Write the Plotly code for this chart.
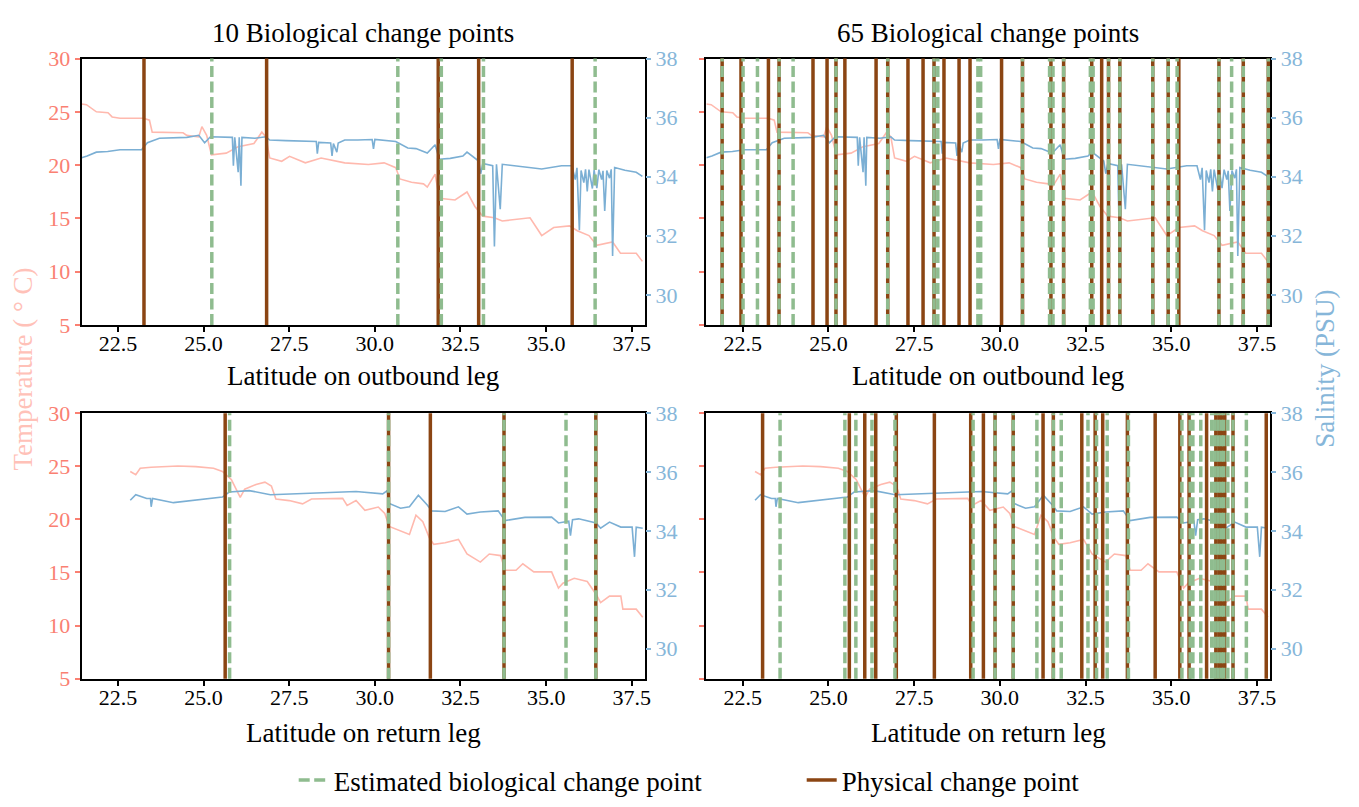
import plotly.graph_objects as go

FONT = "Liberation Serif"

# ---------------- data ----------------
# Outbound leg: temperature (deg C) vs latitude
out_lat_T = [21.44, 21.58, 21.87, 22.21, 22.33, 22.56, 23.25, 23.42, 23.50, 24.40, 24.51, 24.86, 24.95,
             25.09, 25.23, 25.66, 26.01, 26.47, 26.70, 26.82, 26.93, 27.28, 27.51, 27.97, 28.43, 29.12,
             29.81, 30.27, 30.61, 30.73, 31.07, 31.42, 31.53, 31.76, 31.88, 32.34, 32.69, 32.92, 33.15,
             33.49, 33.72, 34.18, 34.53, 34.87, 35.22, 35.68, 35.91, 36.25, 36.48, 36.94, 37.17, 37.63, 37.81]
out_T = [25.73, 25.67, 25.00, 24.91, 24.52, 24.39, 24.39, 24.21, 23.09, 23.03, 22.79, 22.64, 23.61,
         22.79, 20.97, 21.12, 21.73, 22.03, 23.09, 22.64, 20.67, 20.36, 20.82, 20.21, 20.67, 20.21,
         20.06, 20.21, 19.76, 18.70, 18.39, 18.24, 17.94, 19.15, 16.88, 16.73, 17.48, 16.12, 15.21,
         15.06, 14.76, 14.91, 15.06, 13.39, 14.15, 14.30, 13.85, 13.39, 12.48, 12.79, 11.73, 11.73, 10.97]

# Outbound leg: salinity (PSU) vs latitude
out_lat_S = [21.44, 21.60, 21.87, 22.20, 22.56, 23.19, 23.36, 23.71, 24.51, 24.86, 25.03, 25.20, 25.84,
             25.87, 25.91, 26.01, 26.04, 26.09, 26.12, 26.50, 26.82, 26.93, 27.40, 27.97, 28.29, 28.32,
             28.36, 28.71, 28.75, 28.79, 28.89, 28.93, 29.12, 29.50, 29.92, 29.96, 30.00, 30.61, 30.96,
             31.20, 31.53, 31.76, 31.88, 32.20, 32.57, 32.69, 33.03, 33.09, 33.15, 33.44, 33.49, 33.55,
             33.66, 33.72, 34.20, 34.87, 35.45, 35.75, 35.85, 35.90, 35.97, 36.02, 36.10, 36.15, 36.20,
             36.25, 36.35, 36.40, 36.48, 36.54, 36.62, 36.66, 36.71, 36.77, 36.85, 36.90, 36.94, 37.00,
             37.30, 37.63, 37.81]
out_S = [34.64, 34.70, 34.83, 34.85, 34.91, 34.91, 35.15, 35.30, 35.33, 35.40, 35.15, 35.35, 35.33,
         34.37, 35.33, 34.15, 35.33, 33.69, 35.33, 35.30, 35.35, 35.24, 35.22, 35.19, 35.19, 34.78,
         35.16, 35.14, 34.70, 35.12, 34.83, 35.14, 35.24, 35.24, 35.26, 34.94, 35.26, 35.19, 34.97,
         34.95, 34.80, 35.08, 34.59, 34.62, 34.70, 34.83, 34.53, 34.10, 34.45, 34.37, 31.64, 34.42,
         32.90, 34.42, 34.35, 34.26, 34.37, 34.37, 33.90, 34.30, 32.19, 34.21, 33.80, 34.25, 33.50,
         34.24, 33.60, 34.22, 33.61, 34.24, 33.90, 34.20, 32.84, 34.21, 33.95, 34.25, 31.32, 34.31,
         34.22, 34.15, 34.01]

# Return leg: temperature (deg C) vs latitude
ret_lat_T = [22.86, 23.02, 23.15, 23.47, 24.25, 24.77, 25.29, 25.55, 25.81, 26.07, 26.20, 26.53, 26.79,
             26.98, 27.11, 27.50, 27.89, 28.15, 29.06, 29.19, 29.45, 29.71, 30.10, 30.29, 30.42, 30.75,
             31.01, 31.20, 31.40, 31.59, 31.72, 32.05, 32.44, 32.69, 33.08, 33.34, 33.67, 33.80, 34.12,
             34.32, 34.64, 35.16, 35.36, 35.49, 35.82, 36.20, 36.46, 36.59, 36.85, 37.18, 37.24, 37.63, 37.82]
ret_T = [24.51, 24.21, 24.82, 24.91, 25.03, 24.97, 24.82, 24.51, 23.75, 22.07, 22.84, 23.29, 23.51,
         23.14, 21.92, 21.77, 21.46, 21.92, 21.98, 21.31, 21.77, 20.85, 21.16, 20.55, 19.33, 18.87,
         18.57, 20.40, 19.79, 18.26, 17.65, 17.80, 18.11, 16.74, 15.98, 16.74, 16.59, 15.21, 15.21,
         15.82, 15.06, 15.06, 13.54, 13.99, 14.45, 14.15, 12.93, 12.16, 12.77, 12.77, 11.55, 11.55, 10.79]

# Return leg: salinity (PSU) vs latitude
ret_lat_S = [22.86, 23.02, 23.34, 23.45, 23.47, 23.51, 24.12, 24.90, 25.55, 25.75, 26.33, 26.95, 28.15,
             29.45, 30.23, 30.36, 30.42, 30.75, 31.01, 31.27, 31.53, 31.66, 32.05, 32.44, 32.69, 33.08,
             33.60, 33.80, 34.38, 35.16, 35.36, 35.66, 35.71, 35.77, 35.95, 36.46, 36.59, 36.85, 37.18,
             37.51, 37.58, 37.63, 37.82]
ret_S = [35.04, 35.23, 35.10, 35.10, 34.82, 35.10, 34.96, 35.07, 35.15, 35.32, 35.37, 35.23, 35.29,
         35.34, 35.26, 35.37, 34.93, 34.77, 34.82, 35.21, 34.88, 34.68, 34.66, 34.82, 34.57, 34.64,
         34.68, 34.35, 34.46, 34.47, 34.27, 34.33, 33.84, 34.38, 34.41, 34.27, 34.09, 34.30, 34.13,
         34.13, 33.12, 34.13, 34.09]

# Change points (latitude)
phys_out_10 = [23.26, 26.84, 31.85, 33.03, 35.76]
bio_out_10 = [25.24, 30.67, 31.94, 33.17, 36.43]
phys_out_65 = [21.90, 22.45, 23.25, 23.56, 24.55, 24.96, 25.22, 25.48, 26.39, 26.73, 27.32, 27.76,
               28.08, 28.37, 28.81, 29.13, 30.05, 30.66, 31.49, 31.86, 32.68, 32.97, 33.17, 33.50,
               34.46, 34.91, 35.22, 36.39, 37.10, 37.83]
bio_out_65 = [21.90, 22.51, 22.93, 23.56, 23.97, 25.22, 26.73, 28.08, 28.19, 29.36, 29.44, 30.66,
              31.45, 31.55, 31.86, 32.64, 32.72, 33.17, 33.50, 34.46, 34.91, 35.17, 36.39, 36.76,
              37.10, 37.83]
phys_ret_10 = [25.63, 30.40, 31.62, 33.77, 36.45]
bio_ret_10 = [25.76, 30.40, 33.77, 35.58, 36.45]
phys_ret_65 = [23.08, 25.61, 26.06, 26.38, 26.98, 28.09, 29.15, 29.52, 29.86, 30.39, 31.26, 31.56,
               32.39, 32.78, 33.00, 33.72, 34.53, 35.25, 35.52, 36.03, 36.30, 36.39, 36.47, 36.56,
               36.80, 37.77]
bio_ret_65 = [23.59, 25.48, 25.80, 26.27, 26.94, 29.22, 29.86, 30.39, 31.08, 31.56, 31.79, 32.57,
              32.82, 33.13, 33.75, 35.31, 35.55, 35.63, 35.86, 36.18, 36.27, 36.36, 36.45, 36.53,
              36.65, 36.80, 37.19]

panel_titles = ["10 Biological change points", "65 Biological change points"]
x_titles = ["Latitude on outbound leg", "Latitude on return leg"]
x_ticks = [22.5, 25.0, 27.5, 30.0, 32.5, 35.0, 37.5]
temp_ticks = [5, 10, 15, 20, 25, 30]
sal_ticks = [30, 32, 34, 36, 38]

# ---------------- styling ----------------
W, H = 1359, 807
C_TEMP_LINE = "#ffb9ae"
C_TEMP_TICK = "#fa8072"
C_TEMP_LABEL = "#ffc1b8"
C_SAL_LINE = "#7bafd4"
C_SAL_TICK = "#86b6d9"
C_GREEN = "#8fbc8f"
C_BROWN = "#8b4513"
DASH = "11px,4.5px"
TICK_SIZE = 22
TEXT_SIZE = 27

X_RANGE = [21.44, 37.89]
T_RANGE = [5, 30]
S_RANGE = [28.98, 38]

col_px = [(82, 648), (709.5, 1276)]
row_px = [(48, 323), (414, 688)]


def px_x(v):
    return v / W


def px_y(v):
    return 1 - v / H


panels = [
    # (row, col, lat_T, T, lat_S, S, phys, bio)
    (0, 0, out_lat_T, out_T, out_lat_S, out_S, phys_out_10, bio_out_10),
    (0, 1, out_lat_T, out_T, out_lat_S, out_S, phys_out_65, bio_out_65),
    (1, 0, ret_lat_T, ret_T, ret_lat_S, ret_S, phys_ret_10, bio_ret_10),
    (1, 1, ret_lat_T, ret_T, ret_lat_S, ret_S, phys_ret_65, bio_ret_65),
]

fig = go.Figure()
shapes = []
layout_axes = {}

for i, (r, c, latT, T, latS, S, phys, bio) in enumerate(panels):
    n = i + 1
    xa = "x" if n == 1 else f"x{n}"
    ya = "y" if n == 1 else f"y{n}"
    ys = f"y{n + 4}"

    fig.add_trace(go.Scatter(x=latT, y=T, mode="lines", xaxis=xa, yaxis=ya,
                             line=dict(color=C_TEMP_LINE, width=1.6), showlegend=False,
                             hoverinfo="skip"))
    fig.add_trace(go.Scatter(x=latS, y=S, mode="lines", xaxis=xa, yaxis=ys,
                             line=dict(color=C_SAL_LINE, width=1.6), showlegend=False,
                             hoverinfo="skip"))

    for v in phys:
        shapes.append(dict(type="line", xref=xa, yref=f"{ya} domain", x0=v, x1=v, y0=0, y1=1,
                           line=dict(color=C_BROWN, width=3.5), layer="above"))
    for v in bio:
        shapes.append(dict(type="line", xref=xa, yref=f"{ya} domain", x0=v, x1=v, y0=0, y1=1,
                           line=dict(color=C_GREEN, width=3.5, dash=DASH), layer="above"))

    xd = [px_x(col_px[c][0]), px_x(col_px[c][1])]
    yd = [px_y(row_px[r][1]), px_y(row_px[r][0])]

    xname = "xaxis" if n == 1 else f"xaxis{n}"
    yname = "yaxis" if n == 1 else f"yaxis{n}"
    sname = f"yaxis{n + 4}"

    layout_axes[xname] = dict(
        domain=xd, range=X_RANGE, anchor=ya, showgrid=False, zeroline=False,
        showline=True, mirror=True, linecolor="black", linewidth=2,
        ticks="outside", ticklen=5, tickwidth=1.8, tickcolor="black",
        tickvals=x_ticks, ticktext=[f"{t:.1f}" for t in x_ticks],
        ticklabelstandoff=-7,
        tickfont=dict(family=FONT, size=TICK_SIZE, color="black"),
    )
    layout_axes[yname] = dict(
        domain=yd, range=T_RANGE, anchor=xa, showgrid=False, zeroline=False,
        showline=True, mirror=True, linecolor="black", linewidth=2,
        ticks="outside", ticklen=5, tickwidth=1.8, tickcolor=C_TEMP_TICK,
        tickvals=temp_ticks, showticklabels=(c == 0),
        tickfont=dict(family=FONT, size=TICK_SIZE, color=C_TEMP_TICK),
    )
    layout_axes[sname] = dict(
        overlaying=ya, side="right", anchor=xa, range=S_RANGE, showgrid=False,
        zeroline=False, showline=False,
        ticks="outside", ticklen=5, tickwidth=1.8, tickcolor=C_SAL_TICK,
        tickvals=sal_ticks,
        tickfont=dict(family=FONT, size=TICK_SIZE, color=C_SAL_TICK),
    )

# legend entries
fig.add_trace(go.Scatter(x=[None], y=[None], mode="lines", name="Estimated biological change point",
                         line=dict(color=C_GREEN, width=3.5, dash=DASH)))
fig.add_trace(go.Scatter(x=[None], y=[None], mode="lines", name="Physical change point",
                         line=dict(color=C_BROWN, width=3.5)))

annotations = []
for c in range(2):
    cx = px_x((col_px[c][0] + col_px[c][1]) / 2)
    annotations.append(dict(text=panel_titles[c], x=cx, y=px_y(22), xref="paper", yref="paper",
                            showarrow=False, xanchor="center", yanchor="middle",
                            font=dict(family=FONT, size=TEXT_SIZE, color="black")))
    for r in range(2):
        ylab = 376 if r == 0 else 744
        annotations.append(dict(text=x_titles[r], x=cx, y=px_y(ylab), xref="paper", yref="paper",
                                showarrow=False, xanchor="center", yanchor="middle",
                                font=dict(family=FONT, size=TEXT_SIZE, color="black")))

annotations.append(dict(text="Temperature ( ° C)", x=px_x(23), y=px_y(368), xref="paper", yref="paper",
                        showarrow=False, textangle=-90, xanchor="center", yanchor="middle",
                        font=dict(family=FONT, size=TEXT_SIZE, color=C_TEMP_LABEL)))
annotations.append(dict(text="Salinity (PSU)", x=px_x(1330), y=px_y(368), xref="paper", yref="paper",
                        showarrow=False, textangle=-90, xanchor="center", yanchor="middle",
                        font=dict(family=FONT, size=TEXT_SIZE, color=C_SAL_TICK)))

fig.update_layout(
    width=W, height=H,
    margin=dict(l=0, r=0, t=0, b=0),
    paper_bgcolor="white", plot_bgcolor="white",
    font=dict(family=FONT),
    shapes=shapes,
    annotations=annotations,
    showlegend=True,
    legend=dict(orientation="h", x=px_x(295), xanchor="left", y=px_y(793), yanchor="middle",
                font=dict(family=FONT, size=TEXT_SIZE, color="black"),
                bgcolor="rgba(0,0,0,0)", entrywidth=463, entrywidthmode="pixels",
                tracegroupgap=0),
    **layout_axes,
)

fig.write_html("out.html")
